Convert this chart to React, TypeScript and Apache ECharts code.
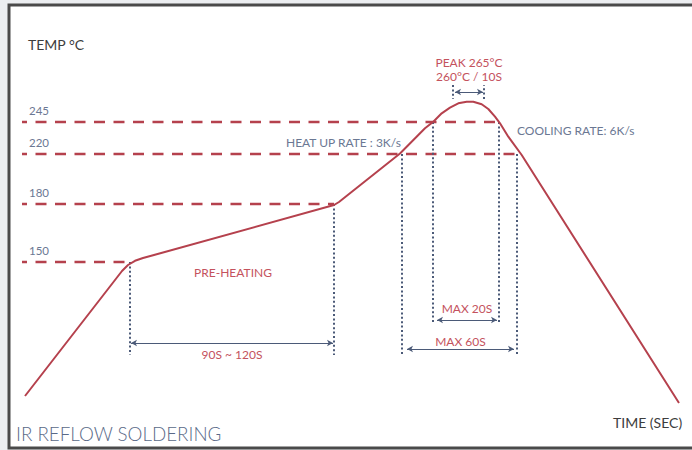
import React, { useEffect, useRef } from "react";
import * as echarts from "echarts";

// Schematic reflow profile (time units, schematic height units)
const profileTime = [1.5, 50, 53, 56.5, 60.5, 66, 156, 158.5, 161, 189, 201.5, 205.65, 209.85, 214, 218.15, 222.35, 225.65, 229.85, 233.15, 236.5, 239, 243.15, 249.85, 328.5];
const profileHeight = [6, 68.5, 71.5, 73.6, 75, 76.5, 101.5, 103, 105, 127.25, 139.85, 143.15, 147.35, 150.15, 152.35, 153.15, 153.15, 151.85, 149.5, 145.65, 142.35, 135.65, 126.5, 2.5];

// Temperature levels (label, schematic height, end time of the dashed line)
const levelLabels = ["150", "180", "220", "245"];
const levelHeights = [73, 102, 127, 143];
const levelEnds = [54, 156, 249, 239.5];

// Vertical guides
const guideTimes = [54, 156, 190, 205.5, 238.5, 247.5, 215.5, 231];
const guideTops = [73, 102, 127, 143, 143, 127, 161.5, 154.5];
const guideBottoms = [26.5, 26.5, 26.5, 42.5, 42.5, 26.5, 154.5, 161.5];

// Duration spans
const spanLabels = ["90S ~ 120S", "MAX 20S", "MAX 60S", "PEAK 265°C\n260°C / 10S"];
const spanStarts = [54.5, 207.5, 192.5, 216.5];
const spanEnds = [155.5, 237.5, 246, 230.5];
const spanHeights = [32.5, 44, 29.5, 158];

const RED = "#b5414d";
const RED_TEXT = "#c4525d";
const NAVY = "#4b5a78";
const BLUE_TEXT = "#6b7893";
const FONT = "Lato";

export default function App() {
  const ref = useRef<HTMLDivElement>(null);
  useEffect(() => {
    if (!ref.current) return;
    const chart = echarts.init(ref.current, null, { renderer: "svg" });
    const spanLabelPos = ["insideMiddleBottom", "insideMiddleTop", "insideMiddleTop", "insideMiddleTop"];
    const spanLabelDist = [4, 5, 1, 9];
    chart.setOption({
      animation: false,
      backgroundColor: "#eceef1",
      grid: { left: 22, right: 10, top: 80, bottom: 42 },
      xAxis: { type: "value", min: 0, max: 330, show: false },
      yAxis: { type: "value", min: 0, max: 164, show: false },
      graphic: [
        {
          type: "rect",
          z: -10,
          shape: { x: 9, y: 5, width: 700, height: 443 },
          style: { fill: "#ffffff", stroke: "#4a4a4a", lineWidth: 3 },
          silent: true,
        },
        { type: "text", x: 28, y: 44, style: { text: "TEMP °C", fontSize: 14, fontFamily: FONT, fill: "#3d3d3d", align: "left", verticalAlign: "middle" } },
        { type: "text", x: 613, y: 422, style: { text: "TIME (SEC)", fontSize: 14, fontFamily: FONT, fill: "#3d3d3d", align: "left", verticalAlign: "middle" } },
        { type: "text", x: 16, y: 433, style: { text: "IR REFLOW SOLDERING", fontSize: 18.8, fontWeight: 300, fontFamily: FONT, fill: "#5a6a88", align: "left", verticalAlign: "middle" } },
        { type: "text", x: 286, y: 142, style: { text: "HEAT UP RATE : 3K/s", fontSize: 12, fontFamily: FONT, fill: BLUE_TEXT, align: "left", verticalAlign: "middle" } },
        { type: "text", x: 517, y: 130.5, style: { text: "COOLING RATE: 6K/s", fontSize: 12, fontFamily: FONT, fill: BLUE_TEXT, align: "left", verticalAlign: "middle" } },
        { type: "text", x: 233, y: 272, style: { text: "PRE-HEATING", fontSize: 12, fontFamily: FONT, fill: RED_TEXT, align: "center", verticalAlign: "middle" } },
      ],
      series: [
        {
          name: "levels",
          type: "line",
          data: [],
          markLine: {
            silent: true,
            symbol: "none",
            animation: false,
            lineStyle: { color: RED, width: 2.3, type: [11, 8.5], dashOffset: 6 },
            label: {
              show: true,
              position: "insideStartTop",
              formatter: "{b}",
              color: BLUE_TEXT,
              fontSize: 11.5,
              fontFamily: FONT,
              distance: [7, 6],
            },
            data: levelHeights.map((h, i) => [
              { name: levelLabels[i], coord: [0, h] },
              { coord: [levelEnds[i], h] },
            ]),
          },
        },
        {
          name: "guides",
          type: "line",
          data: [],
          markLine: {
            silent: true,
            symbol: "none",
            animation: false,
            lineStyle: { color: NAVY, width: 2, type: [2, 2.4] },
            label: { show: false },
            data: guideTimes.map((t, i) => [
              { coord: [t, guideTops[i]] },
              { coord: [t, guideBottoms[i]] },
            ]),
          },
        },
        {
          name: "spans",
          type: "line",
          data: [],
          markLine: {
            silent: true,
            symbol: ["arrow", "arrow"],
            symbolSize: [5, 6],
            animation: false,
            lineStyle: { color: NAVY, width: 1, type: "solid" },
            data: spanHeights.map((h, i) => [
              {
                name: spanLabels[i],
                coord: [spanStarts[i], h],
                label: {
                  show: true,
                  position: spanLabelPos[i],
                  distance: spanLabelDist[i],
                  formatter: "{b}",
                  color: RED_TEXT,
                  fontSize: 12,
                  lineHeight: 14,
                  fontFamily: FONT,
                },
              },
              { coord: [spanEnds[i], h] },
            ]),
          },
        },
        {
          name: "profile",
          type: "line",
          smooth: false,
          symbol: "none",
          lineStyle: { color: RED, width: 2, join: "round" },
          data: profileTime.map((t, i) => [t, profileHeight[i]]),
          z: 5,
        },
      ],
    });
    return () => chart.dispose();
  }, []);
  return (
    <div
      ref={ref}
      style={{ position: "fixed", left: 0, top: 0, width: 692, height: 450 }}
    />
  );
}
